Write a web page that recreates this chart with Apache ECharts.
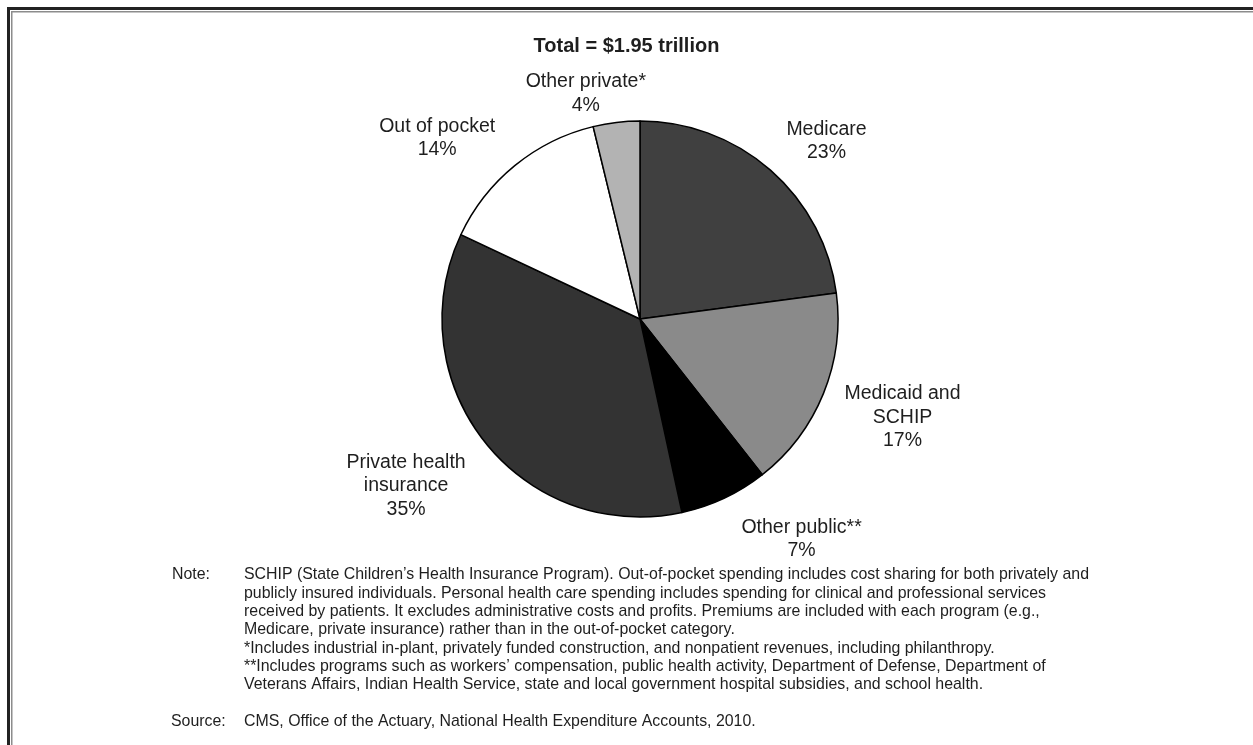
<!DOCTYPE html>
<html>
<head>
<meta charset="utf-8">
<script src="https://cdn.jsdelivr.net/npm/echarts@6/dist/echarts.min.js"></script>
<style>
html,body{margin:0;padding:0;background:#fff;}
#chart{width:1253px;height:745px;}
</style>
</head>
<body>
<div id="chart"></div>
<script>
// ---- data ----
var categories = ['Medicare', 'Medicaid and\nSCHIP', 'Other public**', 'Private health\ninsurance', 'Out of pocket', 'Other private*'];
var shares = [22.9, 16.5, 7.2, 35.4, 14.2, 3.8];
var titleText = 'Total = $1.95 trillion';
var noteLines = [
  'SCHIP (State Children\u2019s Health Insurance Program). Out-of-pocket spending includes cost sharing for both privately and',
  'publicly insured individuals. Personal health care spending includes spending for clinical and professional services',
  'received by patients. It excludes administrative costs and profits. Premiums are included with each program (e.g.,',
  'Medicare, private insurance) rather than in the out-of-pocket category.',
  '*Includes industrial in-plant, privately funded construction, and nonpatient revenues, including philanthropy.',
  '**Includes programs such as workers\u2019 compensation, public health activity, Department of Defense, Department of',
  'Veterans Affairs, Indian Health Service, state and local government hospital subsidies, and school health.'
];
var sourceText = 'CMS, Office of the Actuary, National Health Expenditure Accounts, 2010.';

// ---- style ----
var sliceColors = ['#404040', '#8a8a8a', '#000000', '#333333', '#ffffff', '#b3b3b3'];
var labelNudge = [[3,-20],[5,19],[7,30],[-5,36],[-7,-18],[36,-17]];
var FONT = 'Liberation Sans, Arial, sans-serif';
var TXT = '#1e1e1e';
var NOTE_FONT = '15.9px ' + FONT;

var chart = echarts.init(document.getElementById('chart'), null, {renderer: 'canvas'});

var pieData = categories.map(function (c, i) {
  return {name: c, value: shares[i], itemStyle: {color: sliceColors[i]}};
});

var graphics = [
  {type: 'rect', shape: {x: 7, y: 7, width: 3, height: 738}, style: {fill: '#222'}, silent: true},
  {type: 'rect', shape: {x: 7, y: 7, width: 1246, height: 3}, style: {fill: '#222'}, silent: true},
  {type: 'rect', shape: {x: 11, y: 11, width: 1.5, height: 734}, style: {fill: '#8c8c8c'}, silent: true},
  {type: 'rect', shape: {x: 11, y: 11, width: 1242, height: 1.5}, style: {fill: '#8c8c8c'}, silent: true},
  {type: 'text', x: 172, y: 575, style: {text: 'Note:', font: NOTE_FONT, fill: TXT, verticalAlign: 'middle'}},
  {type: 'text', x: 171, y: 722, style: {text: 'Source:', font: NOTE_FONT, fill: TXT, verticalAlign: 'middle'}},
  {type: 'text', x: 244, y: 722, style: {text: sourceText, font: NOTE_FONT, fill: TXT, verticalAlign: 'middle'}}
];
noteLines.forEach(function (t, i) {
  graphics.push({type: 'text', x: 244, y: 575 + i * 18.3, style: {text: t, font: NOTE_FONT, fill: TXT, verticalAlign: 'middle'}});
});

chart.setOption({
  backgroundColor: '#ffffff',
  animation: false,
  title: {
    text: titleText,
    left: 'center',
    top: 31,
    textStyle: {fontFamily: FONT, fontSize: 20, fontWeight: 'bold', color: TXT}
  },
  graphic: graphics,
  series: [{
    type: 'pie',
    center: [640, 319],
    radius: 198,
    startAngle: 90,
    clockwise: true,
    avoidLabelOverlap: false,
    itemStyle: {borderColor: '#000', borderWidth: 1.5},
    emphasis: {disabled: true},
    label: {
      show: true,
      position: 'outside',
      fontFamily: FONT,
      fontSize: 19.5,
      lineHeight: 23.5,
      color: TXT,
      align: 'center',
      formatter: function (p) { return p.name + '\n' + Math.round(p.value) + '%'; }
    },
    labelLine: {show: false, length: 12, length2: 0},
    labelLayout: function (p) {
      var r = p.labelRect;
      var n = labelNudge[p.dataIndex];
      return {
        x: r.x + r.width / 2 + n[0],
        y: r.y + r.height / 2 + n[1],
        align: 'center',
        verticalAlign: 'middle'
      };
    },
    data: pieData
  }]
});
</script>
</body>
</html>
